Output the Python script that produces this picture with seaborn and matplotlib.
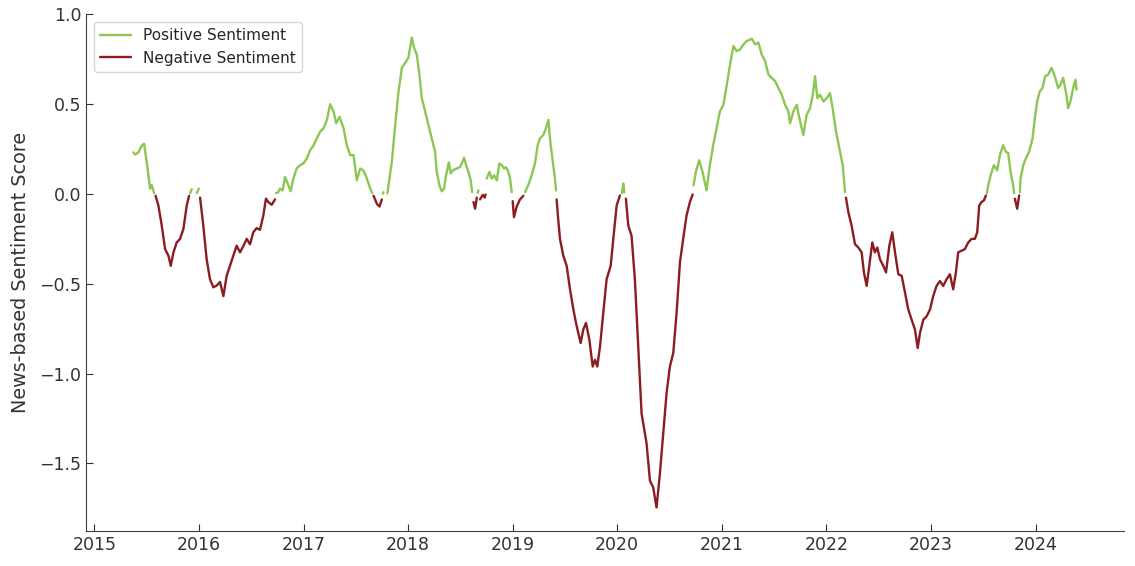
import pandas as pd
import numpy as np
import seaborn as sns
from matplotlib import pyplot as plt
import matplotlib.dates as mdates

# decimal year of each reading, and the news-based sentiment score
year_frac = [
    2015.373, 2015.389, 2015.421, 2015.453, 2015.475, 2015.491, 2015.517, 2015.532, 2015.548, 2015.571,
    2015.585, 2015.612, 2015.644, 2015.676, 2015.708, 2015.730, 2015.756, 2015.787, 2015.819, 2015.851,
    2015.883, 2015.905, 2015.915, 2015.931, 2015.953, 2015.979, 2015.998, 2016.011, 2016.042, 2016.074,
    2016.106, 2016.138, 2016.170, 2016.202, 2016.234, 2016.265, 2016.297, 2016.329, 2016.361, 2016.393,
    2016.425, 2016.457, 2016.489, 2016.520, 2016.552, 2016.584, 2016.616, 2016.641, 2016.664, 2016.696,
    2016.728, 2016.737, 2016.759, 2016.775, 2016.801, 2016.823, 2016.855, 2016.877, 2016.903, 2016.935,
    2016.967, 2016.998, 2017.030, 2017.062, 2017.094, 2017.126, 2017.158, 2017.190, 2017.222, 2017.253,
    2017.285, 2017.311, 2017.343, 2017.381, 2017.413, 2017.445, 2017.477, 2017.508, 2017.540, 2017.572,
    2017.604, 2017.636, 2017.655, 2017.668, 2017.700, 2017.725, 2017.747, 2017.757, 2017.763, 2017.789,
    2017.800, 2017.811, 2017.843, 2017.875, 2017.907, 2017.939, 2017.970, 2018.002, 2018.018, 2018.034,
    2018.056, 2018.082, 2018.107, 2018.130, 2018.162, 2018.193, 2018.225, 2018.257, 2018.273, 2018.299,
    2018.321, 2018.343, 2018.362, 2018.388, 2018.407, 2018.432, 2018.464, 2018.496, 2018.512, 2018.534,
    2018.554, 2018.576, 2018.598, 2018.611, 2018.624, 2018.640, 2018.656, 2018.665, 2018.671, 2018.687,
    2018.713, 2018.732, 2018.740, 2018.751, 2018.777, 2018.799, 2018.821, 2018.847, 2018.872, 2018.895,
    2018.917, 2018.936, 2018.958, 2018.974, 2018.990, 2019.000, 2019.012, 2019.038, 2019.070, 2019.102,
    2019.118, 2019.149, 2019.181, 2019.213, 2019.239, 2019.261, 2019.293, 2019.318, 2019.341, 2019.363,
    2019.388, 2019.404, 2019.414, 2019.420, 2019.432, 2019.452, 2019.484, 2019.516, 2019.548, 2019.580,
    2019.605, 2019.627, 2019.650, 2019.675, 2019.701, 2019.733, 2019.765, 2019.787, 2019.809, 2019.835,
    2019.866, 2019.898, 2019.937, 2019.962, 2019.994, 2020.026, 2020.045, 2020.058, 2020.068, 2020.083,
    2020.106, 2020.137, 2020.169, 2020.201, 2020.233, 2020.281, 2020.313, 2020.344, 2020.376, 2020.408,
    2020.440, 2020.472, 2020.504, 2020.536, 2020.568, 2020.600, 2020.631, 2020.663, 2020.695, 2020.721,
    2020.730, 2020.752, 2020.784, 2020.816, 2020.854, 2020.886, 2020.918, 2020.950, 2020.982, 2021.014,
    2021.046, 2021.077, 2021.109, 2021.141, 2021.173, 2021.205, 2021.237, 2021.285, 2021.317, 2021.348,
    2021.380, 2021.412, 2021.444, 2021.476, 2021.508, 2021.540, 2021.571, 2021.603, 2021.635, 2021.651,
    2021.683, 2021.715, 2021.740, 2021.778, 2021.810, 2021.842, 2021.868, 2021.890, 2021.912, 2021.938,
    2021.970, 2022.002, 2022.033, 2022.059, 2022.091, 2022.123, 2022.155, 2022.177, 2022.186, 2022.209,
    2022.240, 2022.272, 2022.304, 2022.336, 2022.358, 2022.384, 2022.409, 2022.438, 2022.463, 2022.486,
    2022.511, 2022.543, 2022.569, 2022.601, 2022.629, 2022.655, 2022.687, 2022.719, 2022.751, 2022.782,
    2022.814, 2022.846, 2022.872, 2022.894, 2022.926, 2022.958, 2022.990, 2023.021, 2023.053, 2023.085,
    2023.117, 2023.149, 2023.181, 2023.212, 2023.238, 2023.260, 2023.292, 2023.324, 2023.356, 2023.388,
    2023.420, 2023.442, 2023.461, 2023.483, 2023.506, 2023.525, 2023.535, 2023.547, 2023.570, 2023.601,
    2023.633, 2023.659, 2023.690, 2023.716, 2023.738, 2023.761, 2023.786, 2023.795, 2023.802, 2023.824,
    2023.843, 2023.850, 2023.856, 2023.882, 2023.907, 2023.939, 2023.971, 2023.993, 2024.016, 2024.041,
    2024.067, 2024.092, 2024.121, 2024.153, 2024.185, 2024.216, 2024.239, 2024.264, 2024.290, 2024.312,
    2024.334, 2024.360, 2024.382, 2024.392,
]

score = [
    0.232, 0.22, 0.232, 0.27, 0.28, 0.216, 0.104, 0.03, 0.05, 0.005,
    -0.01, -0.064, -0.176, -0.307, -0.344, -0.40, -0.325, -0.27, -0.25, -0.195,
    -0.064, -0.01, 0.005, 0.027, -0.01, 0.005, 0.03, -0.02, -0.176, -0.363,
    -0.475, -0.52, -0.51, -0.49, -0.569, -0.457, -0.40, -0.344, -0.288, -0.325,
    -0.29, -0.25, -0.28, -0.213, -0.19, -0.2, -0.12, -0.026, -0.045, -0.06,
    -0.03, 0.005, 0.01, 0.03, 0.02, 0.095, 0.05, 0.015, 0.086, 0.142,
    0.16, 0.17, 0.198, 0.245, 0.27, 0.31, 0.348, 0.366, 0.413, 0.50,
    0.46, 0.394, 0.43, 0.366, 0.27, 0.216, 0.216, 0.076, 0.142, 0.13,
    0.086, 0.03, 0.005, -0.01, -0.055, -0.07, -0.03, 0.002, 0.01, -0.01,
    0.003, 0.05, 0.18, 0.385, 0.572, 0.703, 0.73, 0.759, 0.815, 0.871,
    0.815, 0.777, 0.665, 0.534, 0.46, 0.385, 0.31, 0.236, 0.123, 0.048,
    0.015, 0.03, 0.104, 0.176, 0.115, 0.134, 0.142, 0.15, 0.17, 0.202,
    0.16, 0.123, 0.076, 0.01, -0.045, -0.082, -0.02, 0.005, 0.02, -0.03,
    -0.005, -0.02, -0.003, 0.086, 0.123, 0.086, 0.104, 0.076, 0.17, 0.16,
    0.142, 0.15, 0.123, 0.086, 0.01, -0.04, -0.129, -0.07, -0.03, -0.01,
    0.01, 0.05, 0.104, 0.17, 0.272, 0.31, 0.329, 0.366, 0.413, 0.272,
    0.16, 0.086, 0.02, -0.03, -0.12, -0.25, -0.344, -0.40, -0.531, -0.643,
    -0.718, -0.774, -0.83, -0.755, -0.718, -0.812, -0.961, -0.924, -0.961, -0.849,
    -0.662, -0.475, -0.40, -0.25, -0.064, -0.008, 0.005, 0.058, 0.01, -0.026,
    -0.176, -0.232, -0.475, -0.849, -1.223, -1.39, -1.597, -1.634, -1.746, -1.56,
    -1.335, -1.11, -0.961, -0.886, -0.662, -0.381, -0.25, -0.12, -0.045, -0.003,
    0.048, 0.123, 0.188, 0.123, 0.02, 0.16, 0.272, 0.366, 0.46, 0.497,
    0.609, 0.721, 0.824, 0.796, 0.805, 0.833, 0.852, 0.865, 0.833, 0.843,
    0.777, 0.74, 0.665, 0.647, 0.628, 0.59, 0.553, 0.497, 0.46, 0.394,
    0.46, 0.497, 0.422, 0.329, 0.441, 0.478, 0.553, 0.656, 0.534, 0.553,
    0.515, 0.534, 0.562, 0.478, 0.348, 0.254, 0.16, 0.011, -0.02, -0.101,
    -0.176, -0.279, -0.298, -0.325, -0.437, -0.512, -0.40, -0.27, -0.325, -0.298,
    -0.363, -0.40, -0.437, -0.288, -0.213, -0.325, -0.447, -0.456, -0.55, -0.643,
    -0.70, -0.755, -0.858, -0.774, -0.70, -0.681, -0.643, -0.569, -0.512, -0.485,
    -0.512, -0.475, -0.447, -0.531, -0.437, -0.325, -0.316, -0.307, -0.27, -0.25,
    -0.25, -0.213, -0.064, -0.045, -0.036, -0.008, 0.005, 0.048, 0.104, 0.16,
    0.132, 0.216, 0.272, 0.235, 0.228, 0.123, 0.048, 0.005, -0.026, -0.082,
    -0.008, 0.01, 0.086, 0.16, 0.198, 0.236, 0.31, 0.422, 0.516, 0.572,
    0.59, 0.656, 0.665, 0.703, 0.656, 0.59, 0.609, 0.647, 0.572, 0.478,
    0.516, 0.59, 0.637, 0.581,
]

labels = ['Positive Sentiment', 'Negative Sentiment']
colors = ['#8cc653', '#8b1c22']


def to_date(y):
    base = pd.Timestamp(year=int(y), month=1, day=1)
    return base + pd.Timedelta(days=(y - int(y)) * 365.25)


df = pd.DataFrame({'Date': [to_date(y) for y in year_frac], 'Score': score})
df['Sentiment'] = np.where(df['Score'] >= 0, labels[0], labels[1])
# each run of same sign is drawn as its own line, like a masked series
df['Run'] = (df['Sentiment'] != df['Sentiment'].shift()).cumsum()

sns.set_style('ticks')
plt.rcParams['font.family'] = ['DejaVu Sans']

fig, ax = plt.subplots(figsize=(11.35, 5.66), dpi=100)
fig.subplots_adjust(left=0.076, right=0.99, bottom=0.062, top=0.975)

sns.lineplot(data=df, x='Date', y='Score', hue='Sentiment', units='Run', estimator=None,
             hue_order=labels, palette=colors, linewidth=1.7, ax=ax)

ax.xaxis.set_major_locator(mdates.YearLocator())
ax.xaxis.set_major_formatter(mdates.DateFormatter('%Y'))
ax.set_xlabel('')
ax.set_ylabel('News-based Sentiment Score', fontsize=13.8, color='.2', labelpad=7)
ax.tick_params(direction='in', length=5, labelsize=12.5, colors='.2')
for s in ['left', 'bottom']:
    ax.spines[s].set_color('.25')
sns.despine(ax=ax)

sns.move_legend(ax, 'upper left', title=None, fontsize=11, frameon=True)

plt.savefig('out.png', dpi=100)
